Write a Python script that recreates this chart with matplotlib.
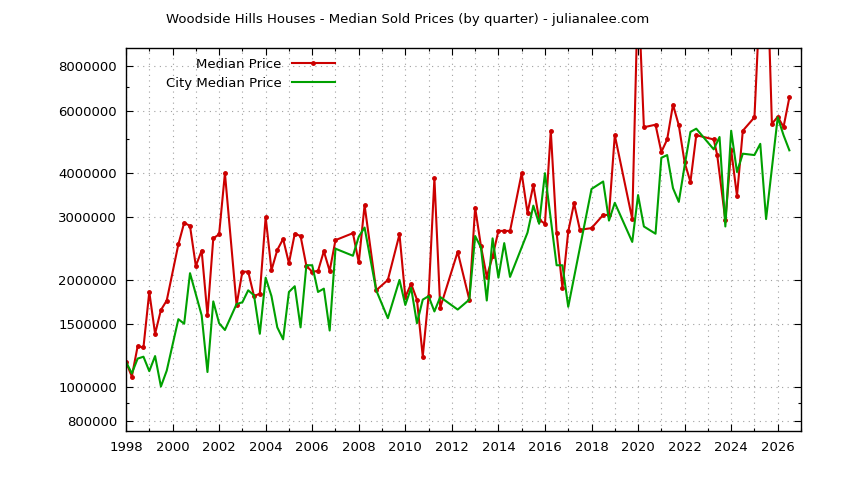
import matplotlib
matplotlib.use('Agg')
from matplotlib import pyplot as plt
from matplotlib.ticker import FixedLocator, FuncFormatter, MultipleLocator

# quarterly median sold prices, Woodside Hills
years_med = [1998.0, 1998.25, 1998.5, 1998.75, 1999.0, 1999.25, 1999.5, 1999.75,
             2000.25, 2000.5, 2000.75, 2001.0, 2001.25, 2001.5, 2001.75,
             2002.0, 2002.25, 2002.75, 2003.0, 2003.25, 2003.5, 2003.75,
             2004.0, 2004.25, 2004.5, 2004.75, 2005.0, 2005.25, 2005.5, 2005.75,
             2006.0, 2006.25, 2006.5, 2006.75, 2007.0, 2007.75,
             2008.0, 2008.25, 2008.75, 2009.25, 2009.75,
             2010.0, 2010.25, 2010.5, 2010.75, 2011.0, 2011.25, 2011.5,
             2012.25, 2012.75, 2013.0, 2013.25, 2013.5, 2013.75,
             2014.0, 2014.25, 2014.5, 2015.0, 2015.25, 2015.5, 2015.75,
             2016.0, 2016.25, 2016.5, 2016.75, 2017.0, 2017.25, 2017.5,
             2018.0, 2018.5, 2018.75, 2019.0, 2019.75, 2020.0, 2020.25, 2020.75,
             2021.0, 2021.25, 2021.5, 2021.75, 2022.0, 2022.25, 2022.5,
             2023.25, 2023.4, 2023.75, 2024.0, 2024.25, 2024.5,
             2025.0, 2025.25, 2025.5, 2025.75, 2026.0, 2026.25, 2026.5]
median_price = [1175000, 1068000, 1300000, 1290000, 1850000, 1410000, 1645000, 1750000,
                2520000, 2900000, 2840000, 2190000, 2420000, 1590000, 2620000,
                2690000, 4000000, 1700000, 2110000, 2110000, 1800000, 1830000,
                3010000, 2130000, 2430000, 2610000, 2230000, 2700000, 2660000, 2190000,
                2110000, 2120000, 2410000, 2120000, 2590000, 2710000,
                2240000, 3250000, 1870000, 2000000, 2690000,
                1790000, 1950000, 1760000, 1216000, 1800000, 3870000, 1670000,
                2400000, 1760000, 3200000, 2490000, 2040000, 2330000,
                2750000, 2750000, 2750000, 4000000, 3090000, 3700000, 2960000,
                2880000, 5270000, 2720000, 1900000, 2740000, 3290000, 2770000,
                2800000, 3050000, 3050000, 5120000, 2970000, 13500000, 5390000, 5480000,
                4590000, 4980000, 6240000, 5460000, 4290000, 3780000, 5120000,
                4980000, 4500000, 2950000, 4650000, 3450000, 5270000,
                5750000, 13000000, 19000000, 5510000, 5770000, 5400000, 6540000]

years_city = [1998.0, 1998.25, 1998.5, 1998.75, 1999.0, 1999.25, 1999.5, 1999.75,
              2000.25, 2000.5, 2000.75, 2001.25, 2001.5, 2001.75,
              2002.0, 2002.25, 2002.75, 2003.0, 2003.25, 2003.5, 2003.75,
              2004.0, 2004.25, 2004.5, 2004.75, 2005.0, 2005.25, 2005.5, 2005.75,
              2006.0, 2006.25, 2006.5, 2006.75, 2007.0, 2007.75,
              2008.0, 2008.25, 2008.75, 2009.25, 2009.75,
              2010.0, 2010.25, 2010.5, 2010.75, 2011.0, 2011.25, 2011.5,
              2012.25, 2012.75, 2013.0, 2013.25, 2013.5, 2013.75,
              2014.0, 2014.25, 2014.5, 2015.25, 2015.5, 2015.75,
              2016.0, 2016.5, 2016.75, 2017.0,
              2018.0, 2018.5, 2018.75, 2019.0, 2019.75, 2020.0, 2020.25, 2020.75,
              2021.0, 2021.25, 2021.5, 2021.75, 2022.0, 2022.25, 2022.5,
              2023.25, 2023.5, 2023.75, 2024.0, 2024.25, 2024.5,
              2025.0, 2025.25, 2025.5, 2026.0, 2026.25, 2026.5]
city_price = [1175000, 1090000, 1200000, 1215000, 1106000, 1220000, 1001000, 1110000,
              1550000, 1505000, 2090000, 1590000, 1100000, 1740000,
              1510000, 1445000, 1710000, 1730000, 1870000, 1810000, 1410000,
              2030000, 1800000, 1470000, 1360000, 1850000, 1920000, 1470000, 2200000,
              2200000, 1850000, 1890000, 1440000, 2450000, 2340000,
              2650000, 2810000, 1870000, 1560000, 2000000,
              1700000, 1900000, 1510000, 1760000, 1800000, 1630000, 1790000,
              1650000, 1760000, 2660000, 2470000, 1750000, 2620000,
              2030000, 2540000, 2040000, 2720000, 3240000, 2880000,
              4000000, 2200000, 2200000, 1680000,
              3610000, 3790000, 2940000, 3300000, 2560000, 3470000, 2830000, 2700000,
              4420000, 4500000, 3630000, 3320000, 4200000, 5230000, 5340000,
              4670000, 5060000, 2830000, 5270000, 4030000, 4540000,
              4500000, 4840000, 2970000, 5750000, 5120000, 4640000]

y_ticks = [800000, 1000000, 1500000, 2000000, 3000000, 4000000, 6000000, 8000000]
y_minor = [900000, 5000000, 7000000]

plt.rcParams['font.family'] = 'DejaVu Sans'
plt.rcParams['font.size'] = 9.5

fig = plt.figure(figsize=(8.44, 4.80), dpi=100)
ax = fig.add_axes([126 / 844, 49 / 480, 675 / 844, 382.7 / 480])

ax.plot(years_med, median_price, color='#cc0000', lw=1.5, marker='o', ms=2.5,
        label='Median Price')
ax.plot(years_city, city_price, color='#00a000', lw=1.5, label='City Median Price')

ax.set_yscale('log')
ax.set_ylim(750000, 9000000)
ax.set_xlim(1998, 2027)

ax.yaxis.set_major_locator(FixedLocator(y_ticks))
ax.yaxis.set_minor_locator(FixedLocator(y_minor))
ax.yaxis.set_major_formatter(FuncFormatter(lambda v, p: '%d' % v))
ax.yaxis.set_minor_formatter(FuncFormatter(lambda v, p: ''))
ax.xaxis.set_major_locator(MultipleLocator(2))
ax.xaxis.set_minor_locator(MultipleLocator(1))
ax.xaxis.set_major_formatter(FuncFormatter(lambda v, p: '%d' % v))

ax.tick_params(which='both', direction='in', top=True, right=True, color='black')
ax.tick_params(which='major', length=5, width=0.8)
ax.tick_params(which='minor', length=2.5, width=0.8)
ax.tick_params(axis='y', pad=6.5)
ax.tick_params(axis='x', pad=7)

ax.grid(which='major', color='#a0a0a0', lw=0.8, ls=(0, (1, 4)))
ax.grid(which='minor', axis='x', color='#a0a0a0', lw=0.8, ls=(0, (1, 4)))
for s in ax.spines.values():
    s.set_linewidth(1)

ax.legend(loc='upper left', bbox_to_anchor=(166 / 844, 1 - 58 / 480),
          bbox_transform=fig.transFigure, markerfirst=False, frameon=False,
          borderpad=0, borderaxespad=0, handlelength=3.2, handletextpad=0.8,
          labelspacing=0.45)

fig.text(408 / 844, 1 - 19 / 480,
         'Woodside Hills Houses - Median Sold Prices (by quarter) - julianalee.com',
         ha='center', va='center')

fig.savefig('out.png', dpi=100)
